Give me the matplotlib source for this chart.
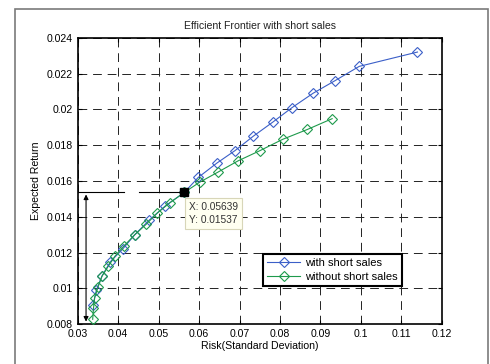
import matplotlib
matplotlib.use("Agg")
import matplotlib.pyplot as plt
from matplotlib.patches import Rectangle

plt.rcParams['font.family'] = ['Liberation Sans', 'DejaVu Sans']

# with short sales
risk_short = [0.0338, 0.0346, 0.0360, 0.0381, 0.0411, 0.0441, 0.0476, 0.0516, 0.05639,
              0.0598, 0.0644, 0.0689, 0.0734, 0.0783, 0.0830, 0.0882, 0.0936, 0.0996, 0.1140]
ret_short = [0.0091, 0.0099, 0.0107, 0.0115, 0.0122, 0.0130, 0.0138, 0.0146, 0.01537,
             0.0162, 0.0170, 0.0177, 0.0185, 0.0193, 0.0201, 0.0209, 0.0216, 0.0224, 0.0232]

# without short sales
risk_noshort = [0.0337, 0.0339, 0.0342, 0.0350, 0.0360, 0.0376, 0.0393, 0.0415, 0.0441, 0.0469,
                0.0496, 0.0528, 0.05639, 0.0602, 0.0647, 0.0696, 0.0750, 0.0807, 0.0868, 0.0929]
ret_noshort = [0.00828, 0.00889, 0.00949, 0.01007, 0.01068, 0.01126, 0.01183, 0.01239, 0.0130, 0.01358,
               0.0142, 0.01479, 0.01537, 0.01594, 0.0165, 0.01712, 0.01769, 0.01833, 0.01888, 0.01948]

tip_x, tip_y = 0.05639, 0.01537

xticks = [0.03, 0.04, 0.05, 0.06, 0.07, 0.08, 0.09, 0.1, 0.11, 0.12]
xtick_labels = ['0.03', '0.04', '0.05', '0.06', '0.07', '0.08', '0.09', '0.1', '0.11', '0.12']
yticks = [0.008, 0.01, 0.012, 0.014, 0.016, 0.018, 0.02, 0.022, 0.024]
ytick_labels = ['0.008', '0.01', '0.012', '0.014', '0.016', '0.018', '0.02', '0.022', '0.024']

fig = plt.figure(figsize=(4.9, 3.64), dpi=100)
# outer border of the figure window
fig.patches.append(Rectangle((15 / 490, -0.1), 473 / 490, 1.1 - 9 / 364, transform=fig.transFigure,
                             fill=False, edgecolor='#7a7a7a', linewidth=1.2))

ax = fig.add_axes([0.1586, 0.109, 0.7429, 0.7874])

blue = '#3b5fc8'
green = '#1e9a4c'
ax.plot(risk_short, ret_short, color=blue, linewidth=0.8, marker='D', markersize=4.6,
        markerfacecolor='none', markeredgewidth=0.8, label='with short sales', zorder=3)
ax.plot(risk_noshort, ret_noshort, color=green, linewidth=0.8, marker='D', markersize=4.6,
        markerfacecolor='none', markeredgewidth=0.8, label='without short sales', zorder=3)

# data tip
ax.plot([tip_x], [tip_y], marker='s', markersize=5.5, color='black', zorder=5)
ax.text(tip_x + 0.0011, tip_y - 0.00055, 'X: 0.05639\nY: 0.01537', fontsize=7.3, color='#333333',
        va='top', ha='left', linespacing=1.3, zorder=6,
        bbox=dict(boxstyle='square,pad=0.4', facecolor='#fffff0', edgecolor='#d8d6b8', linewidth=0.8))

# annotation lines
ax.plot([0.0303, 0.04154], [tip_y, tip_y], color='black', linewidth=0.8, zorder=4)
ax.plot([0.04516, 0.0557], [tip_y, tip_y], color='black', linewidth=0.8, zorder=4)
ax.annotate('', xy=(0.03206, 0.00815), xytext=(0.03206, 0.01525),
            arrowprops=dict(arrowstyle='<|-|>', color='black', linewidth=0.8,
                            mutation_scale=7, shrinkA=0, shrinkB=0), zorder=4)

ax.set_xlim(0.03, 0.12)
ax.set_ylim(0.008, 0.024)
ax.set_xticks(xticks)
ax.set_xticklabels(xtick_labels)
ax.set_yticks(yticks)
ax.set_yticklabels(ytick_labels)
ax.tick_params(direction='in', top=True, right=True, labelsize=7.6, length=3, width=0.8, pad=3.5)
ax.grid(True, color='#222222', linestyle=(0, (9, 6)), linewidth=0.7)
for s in ax.spines.values():
    s.set_linewidth(1.2)

ax.set_title('Efficient Frontier with short sales', fontsize=7.6, color='#222222', pad=6)
ax.set_xlabel('Risk(Standard Deviation)', fontsize=7.6, labelpad=1.5)
ax.set_ylabel('Expected Return', fontsize=7.6, labelpad=4)

leg = ax.legend(loc='upper left', bbox_to_anchor=(0.508, 0.247), fontsize=8, fancybox=False,
                framealpha=1, edgecolor='black', handlelength=3.0, borderpad=0.4,
                labelspacing=0.35, handletextpad=0.4, borderaxespad=0)
leg.get_frame().set_linewidth(1.5)

fig.savefig('out.png', dpi=100)
